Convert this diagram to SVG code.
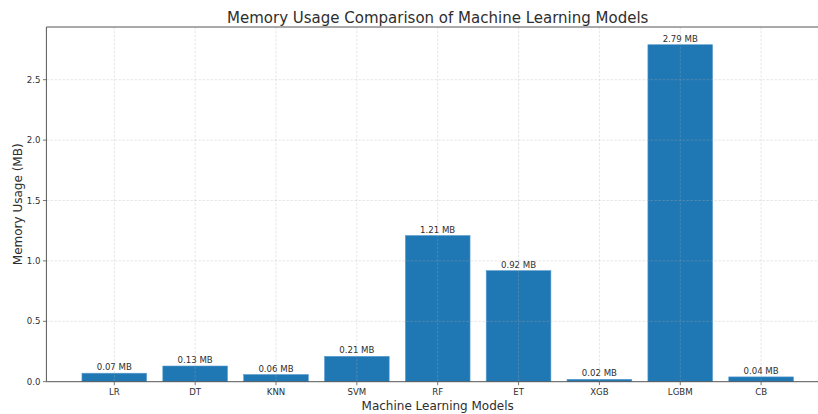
<svg xmlns="http://www.w3.org/2000/svg" width="818" height="414" viewBox="0 0 818 414">
  <style>
    text { font-family: "DejaVu Sans", "Liberation Sans", sans-serif; fill: #2e2e2e; }
    .title { font-size: 15px; text-anchor: middle; }
    .axlabel { font-size: 12px; text-anchor: middle; }
    .ytick { font-size: 8.6px; text-anchor: end; dominant-baseline: central; }
    .xtick { font-size: 8.6px; text-anchor: middle; }
    .val { font-size: 8.6px; text-anchor: middle; }
    .bar { fill: #1f77b4; stroke: #5d9fd0; stroke-width: 0.6; }
    .grid { stroke: #b0b0b0; stroke-width: 0.7; stroke-dasharray: 2.5 1.5; opacity: 0.45; fill: none; }
    .spine { stroke: #555; stroke-width: 1; fill: none; }
    .tick { stroke: #555; stroke-width: 0.8; }
  </style>

  <rect x="0" y="0" width="818" height="414" fill="#ffffff"/>

  <text class="title" x="437.7" y="22.5">Memory Usage Comparison of Machine Learning Models</text>

  <!-- bars with their value labels -->
  <g id="bars">
    <g id="bar-LR"><rect class="bar" x="81.95" y="373.2" width="64.7" height="8.5"/><text class="val" x="114.3" y="370.2">0.07 MB</text></g>
    <g id="bar-DT"><rect class="bar" x="162.8" y="366.0" width="64.7" height="15.7"/><text class="val" x="195.15" y="363.0">0.13 MB</text></g>
    <g id="bar-KNN"><rect class="bar" x="243.65" y="374.5" width="64.7" height="7.2"/><text class="val" x="276.0" y="371.5">0.06 MB</text></g>
    <g id="bar-SVM"><rect class="bar" x="324.5" y="356.3" width="64.7" height="25.4"/><text class="val" x="356.85" y="353.3">0.21 MB</text></g>
    <g id="bar-RF"><rect class="bar" x="405.35" y="235.5" width="64.7" height="146.2"/><text class="val" x="437.7" y="232.5">1.21 MB</text></g>
    <g id="bar-ET"><rect class="bar" x="486.2" y="270.6" width="64.7" height="111.1"/><text class="val" x="518.55" y="267.6">0.92 MB</text></g>
    <g id="bar-XGB"><rect class="bar" x="567.05" y="379.3" width="64.7" height="2.4"/><text class="val" x="599.4" y="376.3">0.02 MB</text></g>
    <g id="bar-LGBM"><rect class="bar" x="647.9" y="44.7" width="64.7" height="337.0"/><text class="val" x="680.25" y="41.7">2.79 MB</text></g>
    <g id="bar-CB"><rect class="bar" x="728.75" y="376.9" width="64.7" height="4.8"/><text class="val" x="761.1" y="373.9">0.04 MB</text></g>
  </g>

  <!-- grid drawn above the bars -->
  <g id="grid">
    <path class="grid" d="M46.4 321.3H830 M46.4 260.9H830 M46.4 200.5H830 M46.4 140.1H830 M46.4 79.7H830"/>
    <path class="grid" d="M114.3 27V381.7 M195.15 27V381.7 M276 27V381.7 M356.85 27V381.7 M437.7 27V381.7 M518.55 27V381.7 M599.4 27V381.7 M680.25 27V381.7 M761.1 27V381.7"/>
  </g>

  <!-- axes frame and tick marks -->
  <g id="axes">
    <path class="spine" d="M46.4 27V381.7 M46.4 27H818 M46.4 381.7H818"/>
    <path class="tick" d="M42.9 381.7H46.4 M42.9 321.3H46.4 M42.9 260.9H46.4 M42.9 200.5H46.4 M42.9 140.1H46.4 M42.9 79.7H46.4"/>
    <path class="tick" d="M114.3 381.7v3.5 M195.15 381.7v3.5 M276 381.7v3.5 M356.85 381.7v3.5 M437.7 381.7v3.5 M518.55 381.7v3.5 M599.4 381.7v3.5 M680.25 381.7v3.5 M761.1 381.7v3.5"/>
  </g>

  <g id="yticks">
    <text class="ytick" x="40.5" y="381.7">0.0</text>
    <text class="ytick" x="40.5" y="321.3">0.5</text>
    <text class="ytick" x="40.5" y="260.9">1.0</text>
    <text class="ytick" x="40.5" y="200.5">1.5</text>
    <text class="ytick" x="40.5" y="140.1">2.0</text>
    <text class="ytick" x="40.5" y="79.7">2.5</text>
  </g>

  <g id="xticks">
    <text class="xtick" x="114.3" y="395">LR</text>
    <text class="xtick" x="195.15" y="395">DT</text>
    <text class="xtick" x="276" y="395">KNN</text>
    <text class="xtick" x="356.85" y="395">SVM</text>
    <text class="xtick" x="437.7" y="395">RF</text>
    <text class="xtick" x="518.55" y="395">ET</text>
    <text class="xtick" x="599.4" y="395">XGB</text>
    <text class="xtick" x="680.25" y="395">LGBM</text>
    <text class="xtick" x="761.1" y="395">CB</text>
  </g>

  <text class="axlabel" x="437.7" y="409.5">Machine Learning Models</text>
  <text class="axlabel" transform="translate(21.5 204.3) rotate(-90)">Memory Usage (MB)</text>
</svg>
